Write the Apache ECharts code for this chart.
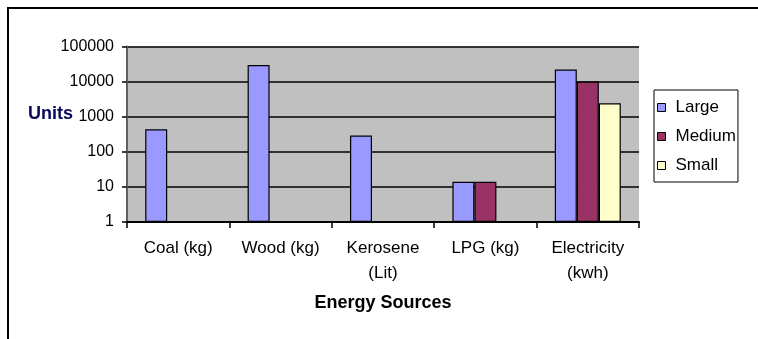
<!DOCTYPE html>
<html>
<head>
<meta charset="utf-8">
<script src="https://cdn.jsdelivr.net/npm/echarts@6/dist/echarts.min.js"></script>
<style>
  html, body { margin: 0; padding: 0; background: #ffffff; }
  #chart { width: 758px; height: 339px; }
</style>
</head>
<body>
<div id="chart"></div>
<script>
// Energy use by source, per household size (log scale)
const categories = ['Coal (kg)', 'Wood (kg)', 'Kerosene\n(Lit)', 'LPG (kg)', 'Electricity\n(kwh)'];
const largeValues  = [440, 29500, 290, 14, 22000];
const mediumValues = [null, null, null, 14, 10000];
const smallValues  = [null, null, null, null, 2400];
const yTicks = [1, 10, 100, 1000, 10000, 100000];

const FONT = 'Liberation Sans, Arial, sans-serif';

const chart = echarts.init(document.getElementById('chart'), null, { renderer: 'canvas' });

function barSeries(name, data, color) {
  return {
    name: name,
    type: 'bar',
    data: data,
    barWidth: 22,
    barGap: '0%',
    itemStyle: { color: color, borderColor: '#000000', borderWidth: 1.2 }
  };
}

chart.setOption({
  animation: false,
  backgroundColor: '#ffffff',
  textStyle: { fontFamily: FONT },
  grid: {
    left: 127, right: 119, top: 46.5, bottom: 117,
    show: true,
    backgroundColor: '#c0c0c0',
    borderWidth: 0
  },
  legend: {
    orient: 'vertical',
    left: 654, top: 90,
    padding: [9, 2, 8, 3],
    itemGap: 12,
    itemWidth: 8, itemHeight: 8,
    backgroundColor: '#ffffff',
    borderColor: '#000000', borderWidth: 1,
    icon: 'rect',
    itemStyle: { borderColor: '#000000', borderWidth: 1 },
    textStyle: {
      fontFamily: FONT, fontSize: 17, lineHeight: 16, color: '#000000', padding: [0, 0, 0, 5]
    },
    data: ['Large', 'Medium', 'Small']
  },
  xAxis: {
    type: 'category',
    data: categories,
    name: 'Energy Sources',
    nameLocation: 'middle',
    nameGap: 72,
    nameTextStyle: { fontFamily: FONT, fontSize: 18, fontWeight: 'bold', color: '#000000' },
    axisLine: { show: true, lineStyle: { color: '#000000', width: 2 } },
    axisTick: { show: true, length: 6, alignWithLabel: false, lineStyle: { color: '#000000', width: 1.5 } },
    axisLabel: {
      interval: 0, margin: 14, fontSize: 17, lineHeight: 25, color: '#000000', fontFamily: FONT
    },
    splitLine: { show: false }
  },
  yAxis: {
    type: 'log',
    logBase: 10,
    min: yTicks[0],
    max: yTicks[yTicks.length - 1],
    axisLine: { show: true, lineStyle: { color: '#606060', width: 2 } },
    axisTick: { show: true, length: 5, inside: false, lineStyle: { color: '#000000', width: 1.5 } },
    axisLabel: {
      margin: 13, fontSize: 16, color: '#000000', fontFamily: FONT,
      formatter: function (v) { return String(Math.round(v)); }
    },
    splitLine: { show: true, lineStyle: { color: '#000000', width: 1.5 } },
    minorTick: { show: false }
  },
  graphic: [
    { type: 'line', shape: { x1: 7, y1: 8, x2: 758, y2: 8 }, style: { stroke: '#000000', lineWidth: 2 } },
    { type: 'line', shape: { x1: 8, y1: 7, x2: 8, y2: 339 }, style: { stroke: '#000000', lineWidth: 2 } },
    {
      type: 'text', left: 28, top: 105,
      style: { text: 'Units', fontFamily: FONT, fontSize: 18, fontWeight: 'bold', fill: '#0a0a5a' }
    }
  ],
  series: [
    barSeries('Large', largeValues, '#9999ff'),
    barSeries('Medium', mediumValues, '#993366'),
    barSeries('Small', smallValues, '#ffffcc')
  ]
});
</script>
</body>
</html>
